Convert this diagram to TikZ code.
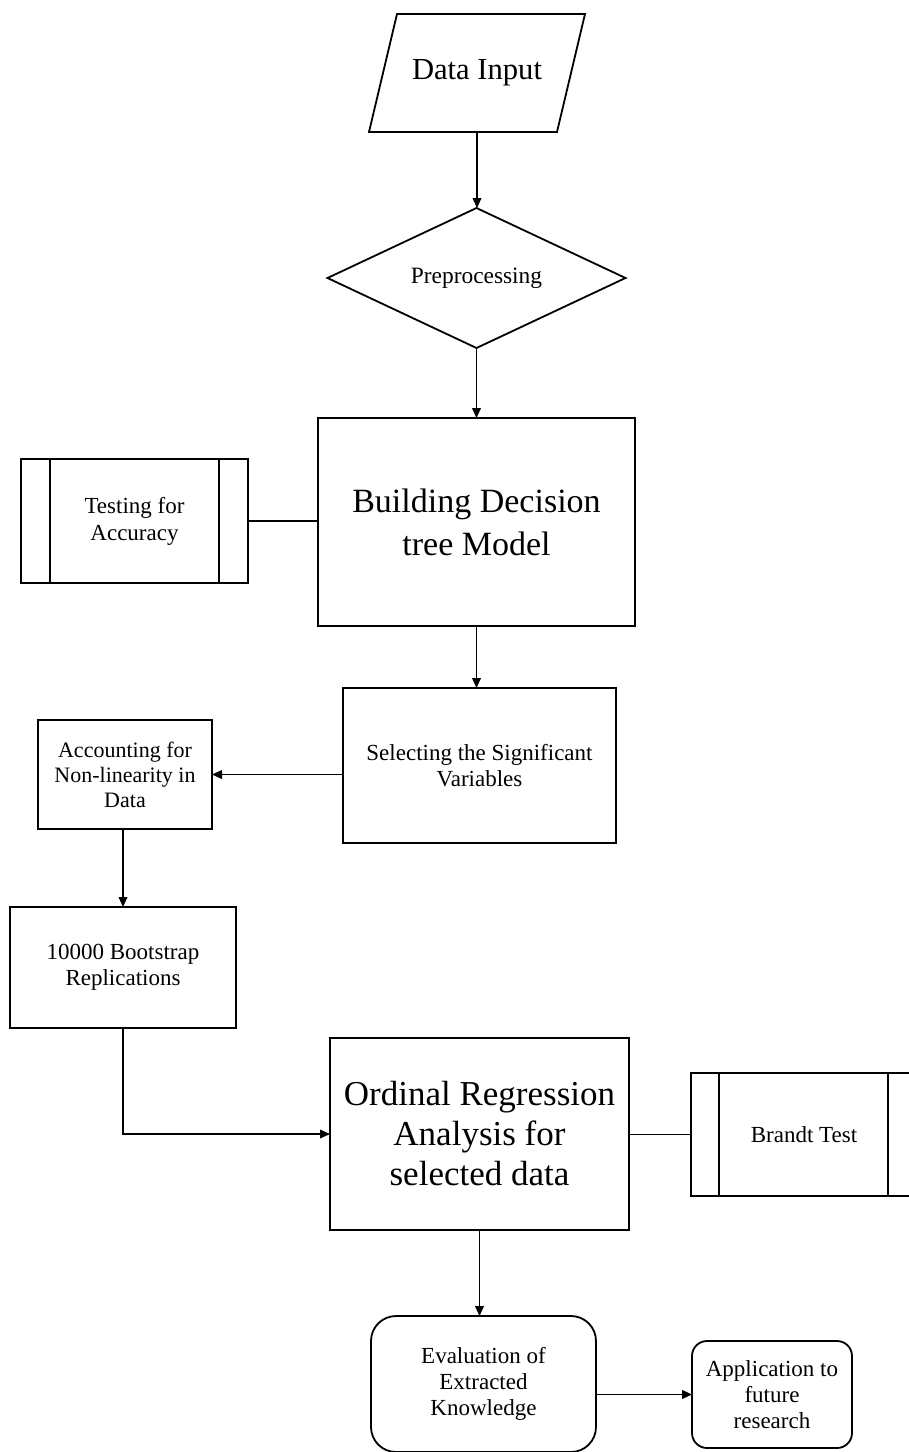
\documentclass[tikz,border=0pt]{standalone}
\usepackage{fontspec}
\setmainfont{Liberation Serif}
\usetikzlibrary{arrows.meta,shapes.geometric,calc}
\begin{document}
\begin{tikzpicture}[x=0.5pt,y=-0.5pt,
  box/.style={draw,line width=0.9pt,inner sep=0pt,outer sep=0pt,align=center},
  small/.style={font=\fontsize{11.5pt}{13pt}\selectfont},
  big/.style={font=\fontsize{17pt}{21.5pt}\selectfont},
  conn/.style={line width=0.6pt,-{Triangle[length=5pt,width=4.4pt]}},
  plain/.style={line width=0.6pt}]
\useasboundingbox (0,0) rectangle (909,1452);
\clip (0,0) rectangle (909,1452);

% Data Input (parallelogram)
\node[inner sep=0pt,outer sep=0pt,minimum width=94pt,minimum height=59pt,
  font=\fontsize{15.3pt}{18pt}\selectfont] (input) at (477,73) {Data Input};
\draw[line width=0.9pt] ($(input.south west)+(-14,0)$) -- ($(input.south east)+(-14,0)$)
  -- ($(input.north east)+(14,0)$) -- ($(input.north west)+(14,0)$) -- cycle;

% Preprocessing (diamond)
\node[box,diamond,aspect=2.1,minimum width=149pt,minimum height=70pt,
  font=\fontsize{11.7pt}{14pt}\selectfont] (prep) at (476.5,278) {Preprocessing};

% Building Decision tree Model
\node[box,big,minimum width=158.5pt,minimum height=104pt] (build) at (476.5,522)
  {Building Decision\\tree Model};

% Testing for Accuracy (predefined process)
\node[box,minimum width=113.5pt,minimum height=62pt,
  font=\fontsize{11.5pt}{13.5pt}\selectfont] (test) at (134.5,521) {Testing for\\Accuracy};
\draw[line width=0.9pt] ($(test.north west)+(29,0)$) -- ($(test.south west)+(29,0)$);
\draw[line width=0.9pt] ($(test.north east)+(-29,0)$) -- ($(test.south east)+(-29,0)$);

% Selecting the Significant Variables
\node[box,small,minimum width=136.5pt,minimum height=77.5pt] (sel) at (479.5,765.5)
  {Selecting the Significant\\Variables};

% Accounting for Non-linearity in Data
\node[box,minimum width=87pt,minimum height=54.5pt,
  font=\fontsize{11pt}{12.5pt}\selectfont] (acc) at (125,774.5)
  {Accounting for\\Non-linearity in\\Data};

% 10000 Bootstrap Replications
\node[box,small,minimum width=113pt,minimum height=60.5pt] (boot) at (123,967.5)
  {10000 Bootstrap\\Replications};

% Ordinal Regression Analysis
\node[box,minimum width=149.5pt,minimum height=96pt,
  font=\fontsize{17.5pt}{20pt}\selectfont] (ord) at (479.5,1134)
  {Ordinal Regression\\Analysis for\\selected data};

% Brandt Test (predefined process)
\node[box,small,minimum width=113pt,minimum height=61.5pt] (brandt) at (804,1134.5) {Brandt Test};
\draw[line width=0.9pt] ($(brandt.north west)+(28,0)$) -- ($(brandt.south west)+(28,0)$);
\draw[line width=0.9pt] ($(brandt.north east)+(-29,0)$) -- ($(brandt.south east)+(-29,0)$);

% Evaluation of Extracted Knowledge
\node[box,small,rounded corners=12.5pt,minimum width=112.5pt,minimum height=68pt] (eval) at (483.5,1384)
  {Evaluation of\\Extracted\\Knowledge};

% Application to future research
\node[box,small,rounded corners=7.5pt,minimum width=80pt,minimum height=53.5pt] (app) at (772,1394.5)
  {Application to\\future\\research};

% connectors
\draw[conn] (input.south) -- (prep.north -| input.south);
\draw[conn] (prep.south) -- (build.north -| prep.south);
\draw[plain] (test.east) -- (test.east -| build.west);
\draw[conn] (build.south) -- (sel.north -| build.south);
\draw[conn] (sel.west |- acc.east) -- (acc.east);
\draw[conn] (acc.south -| boot.north) -- (boot.north);
\draw[conn] (boot.south) |- (ord.west);
\draw[plain] (ord.east |- brandt.west) -- (brandt.west);
\draw[conn] (ord.south) -- (eval.north -| ord.south);
\draw[conn] (eval.east |- app.west) -- (app.west);
\end{tikzpicture}
\end{document}
